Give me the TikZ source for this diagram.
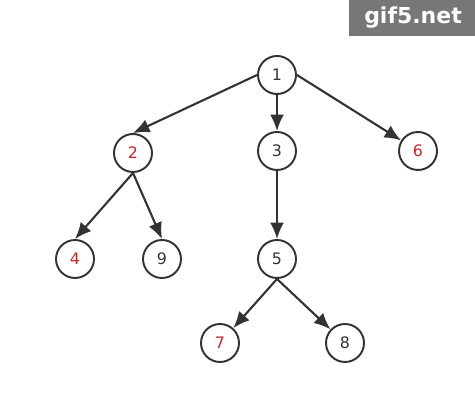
\documentclass[tikz,border=0pt]{standalone}
\usepackage{fontspec}
\setsansfont{DejaVu Sans}
\usetikzlibrary{arrows.meta}

\definecolor{edgegray}{HTML}{333333}
\definecolor{leafred}{HTML}{C62828}
\definecolor{markgray}{HTML}{777777}

\tikzset{
	vertex/.style={circle, draw=edgegray, line width=1.1pt, minimum size=0.76cm, inner sep=0pt, font=\sffamily\small, text=edgegray},
	leaf/.style={vertex, text=leafred},
	edge/.style={-{Latex[length=0.33cm,width=0.28cm]}, draw=edgegray, line width=1.2pt}
}

\begin{document}
\begin{tikzpicture}

		\useasboundingbox[fill=white] (0,0) rectangle (9.5,8);

		\fill[markgray] (6.98,7.28) rectangle (9.5,8);
		\node[text=white, font=\sffamily\bfseries\fontsize{12.5}{15}\selectfont] (mark) at (8.26,7.64) {gif5.net};

		\node[vertex] (n1) at (5.54,6.5) {1};
		\node[leaf]   (n2) at (2.66,4.94) {2};
		\node[vertex] (n3) at (5.54,4.98) {3};
		\node[leaf]   (n6) at (8.36,4.98) {6};
		\node[leaf]   (n4) at (1.5,2.82) {4};
		\node[vertex] (n9) at (3.24,2.82) {9};
		\node[vertex] (n5) at (5.54,2.82) {5};
		\node[leaf]   (n7) at (4.4,1.14) {7};
		\node[vertex] (n8) at (6.9,1.14) {8};

		\draw[edge] (n1.west) -- (n2.north);
		\draw[edge] (n1) -- (n3);
		\draw[edge] (n1.east) -- (n6);
		\draw[edge] (n2.south) -- (n4.north);
		\draw[edge] (n2.south) -- (n9.north);
		\draw[edge] (n3) -- (n5);
		\draw[edge] (n5.south) -- (n7);
		\draw[edge] (n5.south) -- (n8);
	\end{tikzpicture}
\end{document}
